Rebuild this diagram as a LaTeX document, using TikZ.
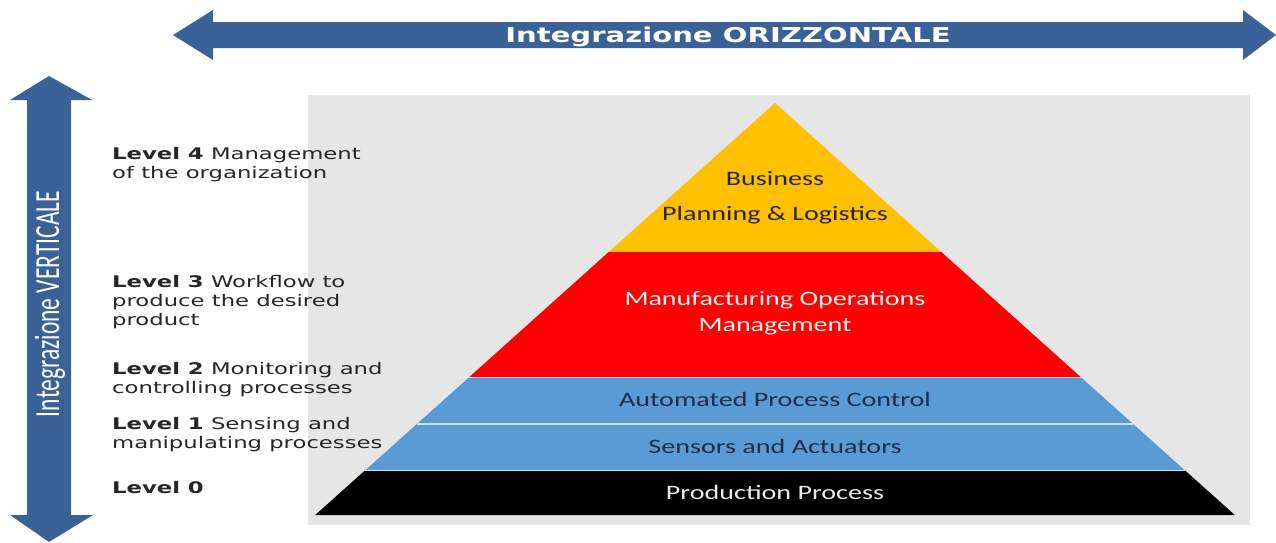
\documentclass[tikz,border=0pt]{standalone}
\usepackage{fontspec}
\usepackage{xcolor}
\usepackage{tikz}
\usetikzlibrary{positioning}
\newfontfamily\lvlfont[FakeStretch=1.42]{DejaVu Sans}
\newfontfamily\pyrfont[FakeStretch=1.37]{Carlito}
\newfontfamily\vertfont{Carlito}
\definecolor{ABlue}{HTML}{3A6297}
\definecolor{PGrey}{HTML}{E7E6E6}
\definecolor{PYellow}{HTML}{FFC000}
\definecolor{PRed}{HTML}{FF0000}
\definecolor{PBlue}{HTML}{5B9BD5}
\definecolor{PEdge}{HTML}{CFE2F3}
\definecolor{PInk}{HTML}{1F2E4A}

\begin{document}
\begin{tikzpicture}[
  x=1pt,y=-1pt,
  lvl/.style={anchor=base west,inner sep=0pt,align=left,text=black!85,
    font={\lvlfont\fontsize{16}{19}\selectfont}},
  tier/.style={inner sep=0pt,align=center,
    font={\pyrfont\fontsize{20.5}{26}\selectfont}},
  sep/.style={draw=PEdge,line width=1.6pt}
]
  \useasboundingbox (0,0) rectangle (1276,542);

  % arrows
  \fill[ABlue] (173,35) -- (213,10) -- (213,22) -- (1243,22) -- (1243,10)
    -- (1276,35) -- (1243,60) -- (1243,48) -- (213,48) -- (213,60) -- cycle;
  \node[font={\lvlfont\bfseries\fontsize{20.5}{24}\selectfont},text=white]
    (horiz) at (728,37) {Integrazione ORIZZONTALE};
  \fill[ABlue] (49,76) -- (92,100) -- (71,100) -- (71,515) -- (93,515)
    -- (49,542) -- (10,515) -- (27,515) -- (27,100) -- (10,100) -- cycle;
  \node[rotate=90,text=white,inner sep=0pt] (vert) at (50,304)
    {\scalebox{1}[1.5]{\vertfont\fontsize{23.5}{26}\selectfont Integrazione VERTICALE}};

  % pyramid
  \fill[PGrey] (308,95) rectangle (1250,525);
  \fill[PYellow] (775,103) -- (941.3,252) -- (608.7,252) -- cycle;
  \fill[PRed] (608.7,252) -- (941.3,252) -- (1081.2,377.5) -- (468.8,377.5) -- cycle;
  \fill[PBlue] (468.8,377.5) -- (1081.2,377.5) -- (1185.1,470.5) -- (364.9,470.5) -- cycle;
  \fill[black] (364.9,470.5) -- (1185.1,470.5) -- (1234.8,515) -- (315.2,515) -- cycle;
  \draw[sep] (468.8,377.5) -- (1081.2,377.5);
  \draw[sep] (416.8,424) -- (1133.2,424);
  \draw[sep] (364.9,470.5) -- (1185.1,470.5);

  \node[tier,text=black!85,font={\pyrfont\fontsize{20.5}{35}\selectfont}]
    (biz) at (775,198) {Business\\Planning \& Logistics};
  \node[tier,text=white!95!PRed] (mom) at (775,313) {Manufacturing Operations\\Management};
  \node[tier,text=PInk] (apc) at (775,399) {Automated Process Control};
  \node[tier,text=PInk] (sens) at (775,446) {Sensors and Actuators};
  \node[tier,text=white!92!black] (prod) at (775,492) {Production Process};

  % level labels (base = last line)
  \node[lvl] (lfour) at (112,178) {\textbf{Level 4} Management\\of the organization};
  \node[lvl] (lthree) at (112,325) {\textbf{Level 3} Workflow to\\produce the desired\\product};
  \node[lvl] (ltwo) at (112,393) {\textbf{Level 2} Monitoring and\\controlling processes};
  \node[lvl] (lone) at (112,448) {\textbf{Level 1} Sensing and\\manipulating processes};
  \node[lvl] (lzero) at (112,493) {\textbf{Level 0}};
\end{tikzpicture}
\end{document}
